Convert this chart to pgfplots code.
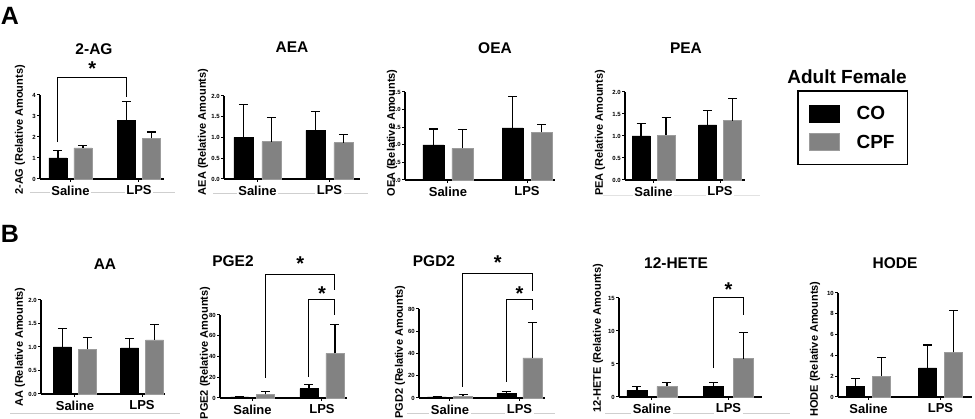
\documentclass[border=0pt]{standalone}
\usepackage{pgfplots}
\pgfplotsset{compat=1.18}
\usepackage{fontspec}
\setmainfont{Liberation Sans}
\definecolor{cpf}{HTML}{828282}
\definecolor{cpfedge}{HTML}{9C9C9C}
\definecolor{guide}{HTML}{CFCFCF}
\tikzset{
  brk/.style={line width=1pt, black},
  star/.style={font=\fontsize{20}{20}\selectfont\bfseries, anchor=north, inner sep=0pt},
}
\pgfplotsset{
  prism/.style={
    scale only axis, clip=false, anchor=south west,
    axis x line*=bottom, axis y line*=left,
    axis line style={line width=1.3pt, -},
    ymin=0, enlargelimits=false,
    xtick={1,2}, xticklabels={Saline,LPS},
    tick align=outside, major tick length=3pt,
    tick style={line width=1pt, black},
    x tick label style={font=\fontsize{13}{13}\selectfont\bfseries, fill=white, inner sep=1.5pt, yshift=-2pt},
    y tick label style={font=\fontsize{6}{6}\selectfont\bfseries, inner sep=1pt},
    /pgf/number format/assume math mode=true,
    ybar, bar width=18pt,
    error bars/y dir=plus, error bars/y explicit,
    error bars/error bar style={line width=1.1pt, black},
    error bars/error mark options={line width=1.1pt, black, mark size=4.5pt, rotate=90},
  },
  dec/.style={yticklabel style={/pgf/number format/.cd, fixed, fixed zerofill, precision=1}},
  co/.style={fill=black, draw=black, bar shift=-#1},
  cpf/.style={fill=cpf, draw=cpfedge, line width=0.8pt, bar shift=#1},
  swatch/.style={legend image code/.code={\draw[##1, line width=0.8pt] (0pt,-8.5pt) rectangle (30pt,8.5pt);}},
}
\begin{document}
\begin{tikzpicture}[x=1pt,y=1pt]
\useasboundingbox (0,0) rectangle (975,419);
% faint guide lines under the group labels
\draw[guide, line width=0.8pt] (30,227) -- (175,227);
\draw[guide, line width=0.8pt] (213,226) -- (368,226);
\draw[guide!60, line width=0.8pt] (603,224) -- (760,224);
\draw[guide, line width=0.8pt] (10,6) -- (180,6);
\draw[guide, line width=0.8pt] (407,6) -- (555,6);
\draw[guide, line width=0.8pt] (605,6) -- (790,6);

% panel letters
\node[font=\fontsize{25}{25}\selectfont\bfseries] at (10,403) {A};
\node[font=\fontsize{25}{25}\selectfont\bfseries] at (10,185) {B};

% ---------- 2-AG ----------
\begin{axis}[prism, at={(40pt,240pt)}, width=124pt, height=84pt,
  xmin=0.555, xmax=2.365, ymax=4, ytick={0,1,2,3,4}]
\addplot[co=12.5pt] coordinates {(1,1.0) +- (0,0.37) (2,2.8) +- (0,0.87)};
\addplot[cpf=12.5pt] coordinates {(1,1.48) +- (0,0.1) (2,1.93) +- (0,0.31)};
\draw[brk] ([xshift=-12.5pt]axis cs:1,1.75) -- ([xshift=-12.5pt]axis cs:1,4.81)
  -- ([xshift=-12.5pt]axis cs:2,4.81) -- ([xshift=-12.5pt]axis cs:2,3.92);
\node[star] at ([xshift=-12.5pt]axis cs:1.5,5.57) {*};
\end{axis}

% ---------- AEA ----------
\begin{axis}[prism, dec, at={(224pt,240pt)}, width=136pt, height=83pt,
  xmin=0.535, xmax=2.424, ymax=2, ytick={0,0.5,1,1.5,2}, bar width=19pt]
\addplot[co=14pt] coordinates {(1,1.0) +- (0,0.8) (2,1.17) +- (0,0.45)};
\addplot[cpf=14pt] coordinates {(1,0.9) +- (0,0.59) (2,0.87) +- (0,0.2)};
\end{axis}

% ---------- OEA ----------
\begin{axis}[prism, dec, at={(405pt,239pt)}, width=150pt, height=88pt,
  xmin=0.456, xmax=2.354, ymax=2.5, ytick={0,0.5,1,1.5,2,2.5}, bar width=21pt]
\addplot[co=14.5pt] coordinates {(1,1.0) +- (0,0.45) (2,1.48) +- (0,0.88)};
\addplot[cpf=14.5pt] coordinates {(1,0.9) +- (0,0.53) (2,1.35) +- (0,0.22)};
\end{axis}

% ---------- PEA ----------
\begin{axis}[prism, dec, at={(625pt,239pt)}, width=120pt, height=88pt,
  xmin=0.571, xmax=2.376, ymax=2, ytick={0,0.5,1,1.5,2},
  legend style={at={(1.433,1.02)}, anchor=north west, draw=black, line width=1.6pt,
    inner xsep=11pt, inner ysep=13pt, font=\fontsize{19}{19}\selectfont\bfseries,
    row sep=10pt, legend cell align=left,
    /tikz/every odd column/.append style={column sep=15pt}}]
\addplot[co=12.5pt, swatch] coordinates {(1,1.0) +- (0,0.28) (2,1.25) +- (0,0.33)};
\addlegendentry{CO}
\addplot[cpf=12.5pt, swatch] coordinates {(1,1.02) +- (0,0.4) (2,1.35) +- (0,0.5)};
\addlegendentry{CPF}
\end{axis}

% ---------- AA ----------
\begin{axis}[prism, dec, at={(41pt,25pt)}, width=124pt, height=94pt,
  xmin=0.493, xmax=2.343, ymax=2, ytick={0,0.5,1,1.5,2}]
\addplot[co=12.5pt] coordinates {(1,1.0) +- (0,0.4) (2,0.98) +- (0,0.2)};
\addplot[cpf=12.5pt] coordinates {(1,0.95) +- (0,0.25) (2,1.15) +- (0,0.32)};
\end{axis}

% ---------- PGE2 ----------
\begin{axis}[prism, at={(220pt,21pt)}, width=127pt, height=83pt,
  xmin=0.532, xmax=2.36, ymax=80, ytick={0,20,40,60,80}]
\addplot[co=13pt] coordinates {(1,1.0) +- (0,0.6) (2,9) +- (0,4)};
\addplot[cpf=13pt] coordinates {(1,3.5) +- (0,3) (2,43) +- (0,28)};
\draw[brk] ([xshift=13pt]axis cs:1,19.3) -- ([xshift=13pt]axis cs:1,119.5)
  -- ([xshift=13pt]axis cs:2,119.5) -- ([xshift=13pt]axis cs:2,104.1);
\draw[brk] ([xshift=-13pt]axis cs:2,20.2) -- ([xshift=-13pt]axis cs:2,95.4)
  -- ([xshift=13pt]axis cs:2,95.4) -- ([xshift=13pt]axis cs:2,80);
\node[star] at ([xshift=13pt]axis cs:1.5,135.9) {*};
\node[star] at (axis cs:2,107) {*};
\end{axis}

% ---------- PGD2 ----------
\begin{axis}[prism, at={(419pt,21pt)}, width=126pt, height=89pt,
  xmin=0.554, xmax=2.367, ymax=80, ytick={0,20,40,60,80}, bar width=19pt]
\addplot[co=13pt] coordinates {(1,1.0) +- (0,0.5) (2,4) +- (0,2)};
\addplot[cpf=13pt] coordinates {(1,1.5) +- (0,1.5) (2,36) +- (0,32)};
\draw[brk] ([xshift=13pt]axis cs:1,9.9) -- ([xshift=13pt]axis cs:1,111.5)
  -- ([xshift=13pt]axis cs:2,111.5) -- ([xshift=13pt]axis cs:2,96.2);
\draw[brk] ([xshift=-13pt]axis cs:2,14.4) -- ([xshift=-13pt]axis cs:2,88.1)
  -- ([xshift=13pt]axis cs:2,88.1) -- ([xshift=13pt]axis cs:2,79.1);
\node[star] at ([xshift=13pt]axis cs:1.5,127.6) {*};
\node[star] at (axis cs:2,99.8) {*};
\end{axis}

% ---------- 12-HETE ----------
\begin{axis}[prism, at={(619pt,22pt)}, width=143pt, height=99pt,
  xmin=0.569, xmax=2.438, ymax=15, ytick={0,5,10,15}, bar width=20pt]
\addplot[co=15pt] coordinates {(1,1.0) +- (0,0.6) (2,1.6) +- (0,0.6)};
\addplot[cpf=15pt] coordinates {(1,1.6) +- (0,0.6) (2,5.8) +- (0,4)};
\draw[brk] ([xshift=-15pt]axis cs:2,4.39) -- ([xshift=-15pt]axis cs:2,15)
  -- ([xshift=15pt]axis cs:2,15) -- ([xshift=15pt]axis cs:2,12.4);
\node[star] at (axis cs:2,17.4) {*};
\end{axis}

% ---------- HODE ----------
\begin{axis}[prism, at={(838pt,22pt)}, width=134pt, height=104pt,
  xmin=0.576, xmax=2.4375, ymax=10, ytick={0,2,4,6,8,10}]
\addplot[co=13pt] coordinates {(1,1.0) +- (0,0.8) (2,2.8) +- (0,2.2)};
\addplot[cpf=13pt] coordinates {(1,2.0) +- (0,1.8) (2,4.3) +- (0,4.0)};
\end{axis}

% titles
\begin{scope}[every node/.style={font=\fontsize{15.5}{16}\selectfont\bfseries}]
\node at (94,370) {2-AG};
\node at (292,372) {AEA};
\node at (495,371) {OEA};
\node at (686,371) {PEA};
\node at (105,155) {AA};
\node at (233,158) {PGE2};
\node at (434,158) {PGD2};
\node at (676,156) {12-HETE};
\node at (895,156) {HODE};
\end{scope}

% y labels
\begin{scope}[every node/.style={rotate=90, font=\fontsize{11}{11}\selectfont\bfseries}]
\node at (20,289) {2-AG (Relative Amounts)};
\node at (203,287) {AEA (Relative Amounts)};
\node at (392,286) {OEA (Relative Amounts)};
\node at (600,286) {PEA (Relative Amounts)};
\node at (20,72) {AA (Relative Amounts)};
\node at (205,66) {PGE2 (Relative Amounts)};
\node at (400,67) {PGD2 (Relative Amounts)};
\node at (598,81) {12-HETE (Relative Amounts)};
\node at (815,70) {HODE (Relative Amounts)};
\end{scope}

% legend title
\node[font=\fontsize{19}{19}\selectfont\bfseries] at (847,342) {Adult Female};
\end{tikzpicture}
\end{document}
